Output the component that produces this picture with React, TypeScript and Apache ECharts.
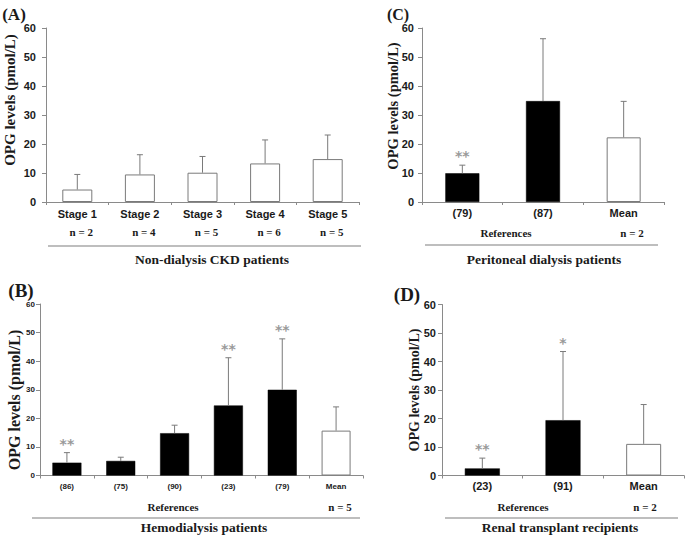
import React, { useEffect, useRef } from "react";
import * as echarts from "echarts";

// Panel A: Non-dialysis CKD patients
const stageCats = ["Stage 1", "Stage 2", "Stage 3", "Stage 4", "Stage 5"];
const stageN = ["n = 2", "n = 4", "n = 5", "n = 6", "n = 5"];
const stageMean = [4.3, 9.5, 10.1, 13.3, 14.8];
const stageErr = [9.5, 16.3, 15.7, 21.4, 23.1];
const stageSig = ["", "", "", "", ""];
const stageKind = ["mean", "mean", "mean", "mean", "mean"];

// Panel C: Peritoneal dialysis patients
const pdCats = ["(79)", "(87)", "Mean"];
const pdMean = [9.9, 34.8, 22.3];
const pdErr = [12.7, 56.3, 34.7];
const pdSig = ["**", "", ""];
const pdKind = ["ref", "ref", "mean"];
const pdN = "n = 2";

// Panel B: Hemodialysis patients
const hdCats = ["(86)", "(75)", "(90)", "(23)", "(79)", "Mean"];
const hdMean = [4.5, 5.1, 14.8, 24.5, 30.0, 15.7];
const hdErr = [8.0, 6.4, 17.6, 41.2, 47.8, 24.0];
const hdSig = ["**", "", "", "**", "**", ""];
const hdKind = ["ref", "ref", "ref", "ref", "ref", "mean"];
const hdN = "n = 5";

// Panel D: Renal transplant recipients
const rtCats = ["(23)", "(91)", "Mean"];
const rtMean = [2.5, 19.4, 11.1];
const rtErr = [6.1, 43.5, 24.9];
const rtSig = ["**", "*", ""];
const rtKind = ["ref", "ref", "mean"];
const rtN = "n = 2";

const yMin = 0;
const yMax = 60;
const yStep = 10;

const AXIS = "#8a8a8a";
const SANS = '"Liberation Sans Narrow", "Liberation Sans", Arial, sans-serif';
const SERIF = '"Liberation Serif", "Times New Roman", serif';

export default function App() {
  const ref = useRef<HTMLDivElement>(null);

  useEffect(() => {
    document.body.style.margin = "0";
    if (!ref.current) return;
    const chart = echarts.init(ref.current, undefined, { renderer: "svg" });

    const panels = [
      { cats: stageCats, mean: stageMean, err: stageErr, sig: stageSig, kind: stageKind,
        grid: { left: 46, top: 28, width: 313, height: 174 }, barWidth: 30,
        tickFont: 11, tickMargin: 10, catFont: 11, catMargin: 3, rich: true },
      { cats: pdCats, mean: pdMean, err: pdErr, sig: pdSig, kind: pdKind,
        grid: { left: 422, top: 28, width: 242, height: 174 }, barWidth: 34,
        tickFont: 11, tickMargin: 8, catFont: 11, catMargin: 5, rich: false },
      { cats: hdCats, mean: hdMean, err: hdErr, sig: hdSig, kind: hdKind,
        grid: { left: 40, top: 304, width: 323, height: 171.5 }, barWidth: 29,
        tickFont: 8, tickMargin: 5, catFont: 8, catMargin: 7, rich: false },
      { cats: rtCats, mean: rtMean, err: rtErr, sig: rtSig, kind: rtKind,
        grid: { left: 442, top: 304.5, width: 242, height: 171 }, barWidth: 35,
        tickFont: 11, tickMargin: 6, catFont: 11, catMargin: 5, rich: false },
    ];

    const grid = panels.map((p) => ({ ...p.grid, containLabel: false }));
    const xAxis = panels.map((p, gi) => ({
      type: "category",
      gridIndex: gi,
      data: p.cats,
      axisLine: { lineStyle: { color: AXIS, width: 1 } },
      axisTick: { show: true, length: 3, lineStyle: { color: AXIS } },
      axisLabel: p.rich
        ? {
            interval: 0,
            margin: p.catMargin,
            formatter: (v: string, i: number) => `{s|${v}}\n{n|${stageN[i]}}`,
            rich: {
              s: { fontFamily: SANS, fontWeight: "bold", fontSize: p.catFont, color: "#1a1a1a", lineHeight: 18 },
              n: { fontFamily: SERIF, fontWeight: "bold", fontSize: 11, color: "#1a1a1a", lineHeight: 18, padding: [0, 0, 0, 8] },
            },
          }
        : {
            interval: 0,
            margin: p.catMargin,
            fontFamily: SANS,
            fontWeight: "bold",
            fontSize: p.catFont,
            color: "#1a1a1a",
          },
    }));
    const yAxis = panels.map((p, gi) => ({
      type: "value",
      gridIndex: gi,
      min: yMin,
      max: yMax,
      interval: yStep,
      splitLine: { show: false },
      axisLine: { show: true, lineStyle: { color: AXIS, width: 1 } },
      axisTick: { show: true, length: 4, lineStyle: { color: AXIS } },
      axisLabel: {
        margin: p.tickMargin,
        fontFamily: SANS,
        fontWeight: "bold",
        fontSize: p.tickFont,
        color: "#1a1a1a",
      },
    }));

    const series: any[] = [];
    panels.forEach((p, gi) => {
      series.push({
        type: "bar",
        xAxisIndex: gi,
        yAxisIndex: gi,
        barWidth: p.barWidth,
        data: p.mean.map((v, i) => ({
          value: v,
          itemStyle:
            p.kind[i] === "ref"
              ? { color: "#000", borderColor: "#000", borderWidth: 0.5 }
              : { color: "#fff", borderColor: "#7a7a7a", borderWidth: 1 },
        })),
        z: 2,
      });
      series.push({
        type: "custom",
        xAxisIndex: gi,
        yAxisIndex: gi,
        z: 3,
        data: p.mean.map((v, i) => [i, v, p.err[i]]),
        renderItem: (params: any, api: any) => {
          const i = api.value(0);
          const p0 = api.coord([i, api.value(1)]);
          const p1 = api.coord([i, api.value(2)]);
          const sig = p.sig[params.dataIndex];
          const children: any[] = [
            { type: "line", shape: { x1: p0[0], y1: p0[1], x2: p1[0], y2: p1[1] }, style: { stroke: "#7a7a7a", lineWidth: 1 } },
            { type: "line", shape: { x1: p1[0] - 3, y1: p1[1], x2: p1[0] + 3, y2: p1[1] }, style: { stroke: "#7a7a7a", lineWidth: 1 } },
          ];
          if (sig) {
            children.push({
              type: "text",
              x: p1[0],
              y: p1[1] - 9,
              style: { text: sig, fill: "#9a9a9a", font: 'bold 14px "DejaVu Sans"', align: "center", verticalAlign: "middle" },
            });
          }
          return { type: "group", children };
        },
      });
    });

    const txt = (text: string, x: number, y: number, size: number, extra: any = {}) => ({
      type: "text",
      x,
      y,
      style: {
        text,
        fill: "#1a1a1a",
        font: `bold ${size}px ${SERIF}`,
        align: "center",
        verticalAlign: "middle",
        ...extra,
      },
    });
    const yTitle = (x: number, y: number, size: number) => ({
      type: "text",
      x,
      y,
      rotation: Math.PI / 2,
      style: {
        text: "OPG levels (pmol/L)",
        fill: "#1a1a1a",
        font: `bold ${size}px ${SERIF}`,
        align: "center",
        verticalAlign: "middle",
      },
    });
    const hline = (x1: number, x2: number, y: number) => ({
      type: "line",
      shape: { x1, y1: y, x2, y2: y },
      style: { stroke: "#a8a8a8", lineWidth: 1.5 },
    });

    const graphic = [
      txt("(A)", 14, 14, 17),
      txt("(C)", 398, 14, 16),
      txt("(B)", 21, 290, 19),
      txt("(D)", 407, 294, 19),
      yTitle(10, 100, 15),
      yTitle(393, 106, 14.5),
      yTitle(14, 400, 16),
      yTitle(414, 390, 14),
      hline(48, 361, 246),
      hline(425, 658, 245),
      hline(32, 360, 518),
      hline(445, 678, 518),
      txt("Non-dialysis CKD patients", 212, 259, 13.5),
      txt("Peritoneal dialysis patients", 544, 259, 13.5),
      txt("Hemodialysis patients", 204, 527, 13.5),
      txt("Renal transplant recipients", 560, 527, 13.5),
      txt("References", 506, 233, 11),
      txt(pdN, 632, 233, 11),
      txt("References", 173, 507, 11),
      txt(hdN, 340, 507, 11),
      txt("References", 523, 507, 11),
      txt(rtN, 645, 507, 11),
    ];

    chart.setOption({
      animation: false,
      backgroundColor: "#fff",
      grid,
      xAxis,
      yAxis,
      series,
      graphic,
    });

    return () => chart.dispose();
  }, []);

  return <div ref={ref} style={{ width: 685, height: 535 }} />;
}
